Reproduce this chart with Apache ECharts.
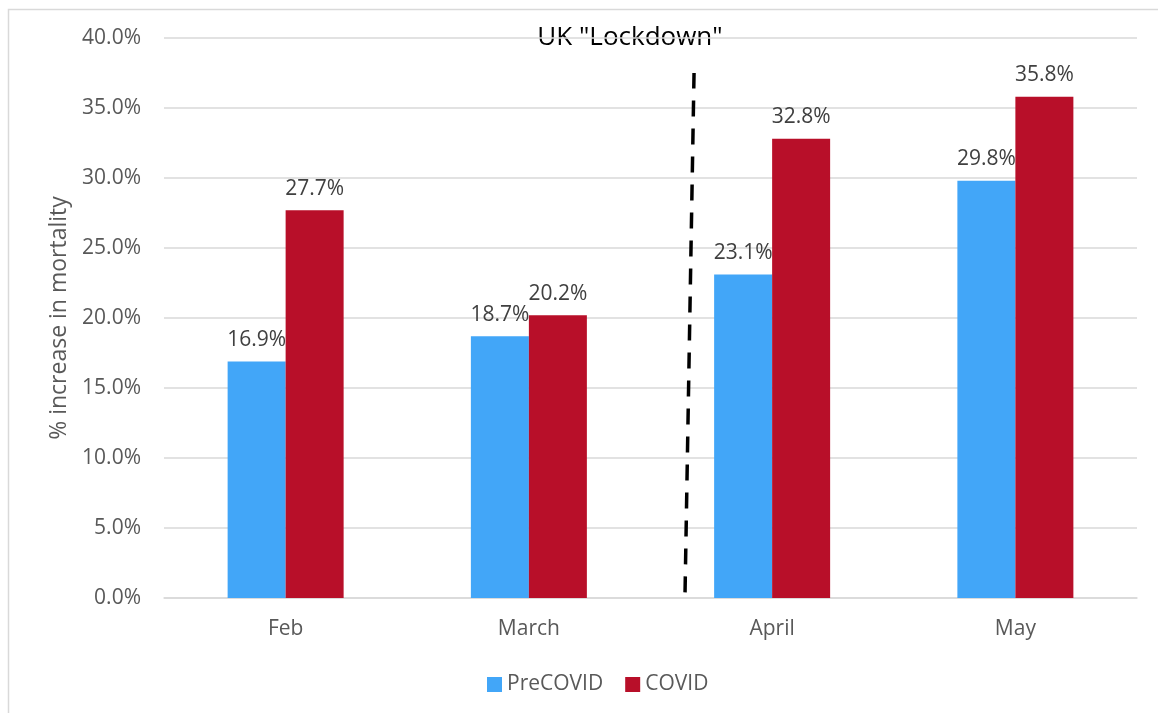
<!DOCTYPE html>
<html>
<head>
<meta charset="utf-8">
<script src="https://cdn.jsdelivr.net/npm/echarts@6/dist/echarts.min.js"></script>
<style>
  html, body { margin: 0; padding: 0; background: #fff; }
  #chart { width: 1158px; height: 713px; }
</style>
</head>
<body>
<div id="chart"></div>
<script>
const months = ['Feb', 'March', 'April', 'May'];
const preCovid = [16.9, 18.7, 23.1, 29.8];
const covid = [27.7, 20.2, 32.8, 35.8];
const lockdownLine = [[1.642, 0.4], [1.679, 37.5]];

const FONT = 'Open Sans';
const labelStyle = {
  show: true,
  position: 'top',
  distance: 11,
  fontFamily: FONT,
  fontSize: 21,
  color: '#404040',
  formatter: (p) => p.value.toFixed(1) + '%',
};

const myChart = echarts.init(document.getElementById('chart'));

const option = {
  animation: false,
  textStyle: { fontFamily: FONT },
  grid: { left: 164, right: 21, top: 38, bottom: 115 },
  legend: {
    data: ['PreCOVID', 'COVID'],
    top: 669,
    left: 482,
    itemWidth: 15,
    itemHeight: 15,
    itemGap: 22,
    icon: 'rect',
    textStyle: { fontFamily: FONT, fontSize: 21, color: '#595959' },
  },
  xAxis: [
    {
      type: 'category',
      data: months,
      axisTick: { show: false },
      axisLine: { show: true, lineStyle: { color: '#d9d9d9', width: 1.5 } },
      axisLabel: { fontFamily: FONT, fontSize: 21, color: '#595959', margin: 21 },
    },
    {
      type: 'value',
      min: -0.5,
      max: 3.5,
      show: false,
    },
  ],
  yAxis: {
    type: 'value',
    min: 0,
    max: 40,
    interval: 5,
    name: '% increase in mortality',
    nameLocation: 'middle',
    nameGap: 93,
    nameTextStyle: { fontFamily: FONT, fontSize: 23, color: '#595959' },
    axisLine: { show: false },
    axisTick: { show: false },
    splitLine: { lineStyle: { color: '#d9d9d9', width: 1.5 } },
    axisLabel: {
      fontFamily: FONT,
      fontSize: 21,
      color: '#595959',
      margin: 23,
      formatter: (v) => v.toFixed(1) + '%',
    },
  },
  series: [
    {
      name: 'PreCOVID',
      type: 'bar',
      data: preCovid,
      barWidth: 58,
      barGap: '0%',
      itemStyle: { color: '#42A6F8' },
      label: labelStyle,
    },
    {
      name: 'COVID',
      type: 'bar',
      data: covid,
      barWidth: 58,
      itemStyle: { color: '#B80F29' },
      label: labelStyle,
    },
    {
      name: 'Lockdown',
      type: 'line',
      xAxisIndex: 1,
      data: lockdownLine,
      symbol: 'none',
      silent: true,
      lineStyle: { color: '#000', width: 3.5, type: [16, 12] },
      z: 5,
    },
  ],
  graphic: [
    {
      type: 'rect',
      shape: { x: 8.5, y: 9.5, width: 1200, height: 800 },
      style: { fill: 'none', stroke: '#d9d9d9', lineWidth: 1.5 },
      silent: true,
      z: -10,
    },
    {
      type: 'text',
      x: 630,
      y: 38,
      style: {
        text: 'UK "Lockdown"',
        fontFamily: FONT,
        fontSize: 26,
        fill: '#000',
        align: 'center',
        verticalAlign: 'middle',
      },
    },
  ],
};

myChart.setOption(option);
</script>
</body>
</html>
